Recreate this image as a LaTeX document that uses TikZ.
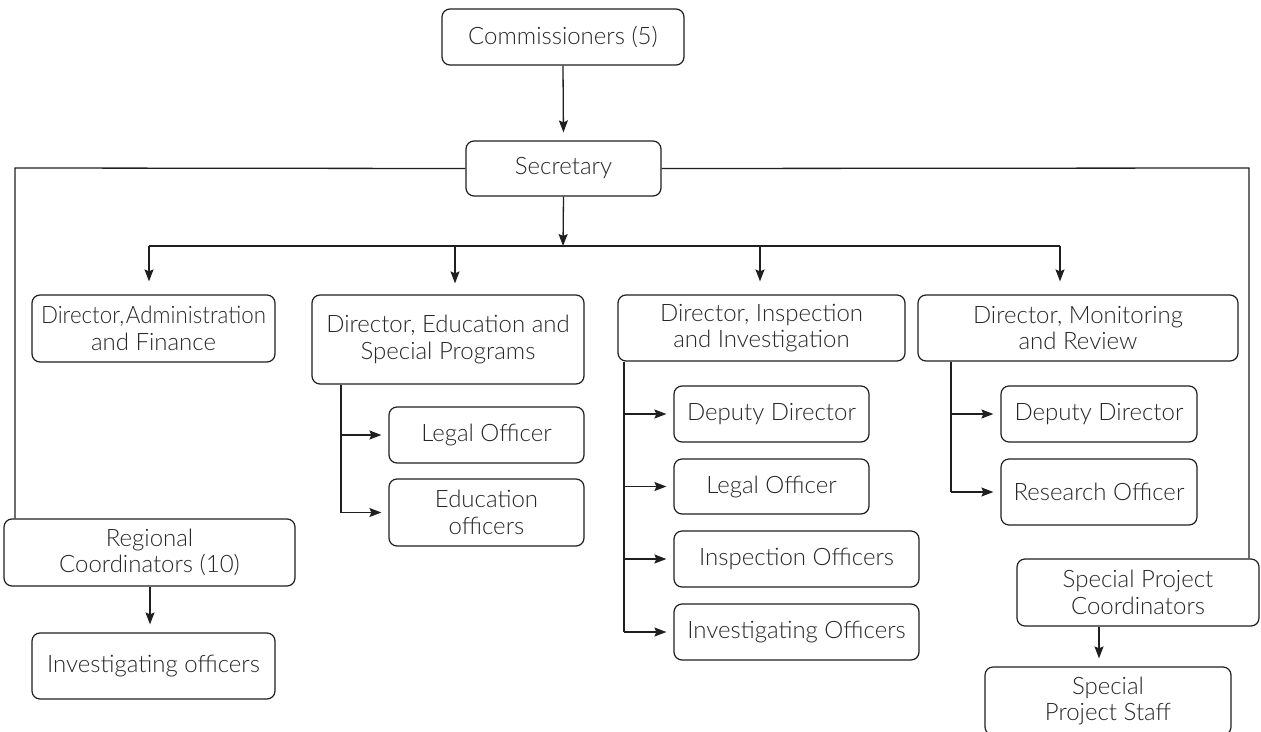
\documentclass[tikz,border=0pt]{standalone}
\usepackage{fontspec}
\usepackage{graphicx}
\setmainfont{Lato}[UprightFont=* Light]
\usetikzlibrary{arrows.meta,calc}
\begin{document}
\begin{tikzpicture}[x=1pt,y=-1pt,
  box/.style={draw=black!88, line width=1.2pt, rounded corners=8pt, align=center, inner sep=0pt,
    font=\fontsize{24}{26.5}\selectfont, text=black!85},
  conn/.style={draw=black!88, line width=1.3pt},
  arr/.style={conn, -{Stealth[length=12pt,width=9pt,inset=2pt]}, shorten >=8pt}]
\useasboundingbox (0,0) rectangle (1261,731);
\node[box, minimum width=242, minimum height=56] (com) at (563,37) {Commissioners (5)};
\node[box, minimum width=195, minimum height=55] (sec) at (563.5,168.5) {Secretary};
\node[box, minimum width=243, minimum height=67] (dadm) at (153.5,328.5) {\scalebox{0.93}[1]{Director,\hspace{2pt}Administration}\\and Finance};
\node[box, minimum width=272, minimum height=89] (dedu) at (448,339.5) {Director, Education and\\Special Programs};
\node[box, minimum width=287, minimum height=66] (dins) at (761.5,328) {Director, Inspection\\and Investigation};
\node[box, minimum width=320, minimum height=66] (dmon) at (1078,328) {Director, Monitoring\\and Review};
\node[box, minimum width=291, minimum height=67] (reg) at (149.5,552.5) {Regional\\Coordinators (10)};
\node[box, minimum width=243, minimum height=66] (invo) at (153.5,666) {Investigating officers};
\node[box, minimum width=195, minimum height=56] (eleg) at (486.5,435) {Legal Officer};
\node[box, minimum width=195, minimum height=67] (eoff) at (486.5,512.5) {Education\\officers};
\node[box, minimum width=195, minimum height=56] (idep) at (771.5,414) {Deputy Director};
\node[box, minimum width=195, minimum height=55] (ileg) at (771.5,486.5) {Legal Officer};
\node[box, minimum width=245, minimum height=56] (iins) at (796.5,559) {Inspection Officers};
\node[box, minimum width=245, minimum height=56] (iinv) at (796.5,632) {Investigating Officers};
\node[box, minimum width=196, minimum height=56] (mdep) at (1099,414) {Deputy Director};
\node[box, minimum width=196, minimum height=66] (mres) at (1099,492) {Research Officer};
\node[box, minimum width=242, minimum height=67] (spc) at (1138,592.5) {Special Project\\Coordinators};
\node[box, minimum width=246, minimum height=68] (sps) at (1108,701) {Special\\Project Staff};
% coordinates
\coordinate (lft) at (15,168);
\coordinate (rgt) at (1249,168);
\coordinate (busl) at (149,246);
\coordinate (busm) at (563,246);
\coordinate (busr) at (1060,246);
\coordinate (b2) at (455,246);
\coordinate (b3) at (760,246);
\coordinate (eb) at (341,0);
\coordinate (ib) at (624,0);
\coordinate (mb) at (951,0);
\coordinate (rb) at (150,0);
\coordinate (sb) at (1099,0);
% connectors
\draw[arr] (com.south) -- (sec.north);
\draw[conn] (sec.west) -- (lft) -- (lft |- reg.north);
\draw[conn] (sec.east) -- (rgt) -- (rgt |- spc.north);
\draw[arr, shorten >=0pt] (sec.south) -- (busm);
\draw[conn] (busl) -- (busr);
\draw[arr, shorten >=13pt] (busl) -- (busl |- dadm.north);
\draw[arr, shorten >=11pt] (b2) -- (b2 |- dedu.north);
\draw[arr, shorten >=13pt] (b3) -- (b3 |- dins.north);
\draw[arr, shorten >=13pt] (busr) -- (busr |- dmon.north);
% education branch
\draw[conn] (eb |- dedu.south) -- (eb |- eoff.west);
\draw[arr, shorten >=7pt] (eb |- eleg.west) -- (eleg.west);
\draw[arr, shorten >=7pt] (eb |- eoff.west) -- (eoff.west);
% inspection branch
\draw[conn] (ib |- dins.south) -- (ib |- iinv.west);
\draw[arr, shorten >=7pt] (ib |- idep.west) -- (idep.west);
\draw[arr, shorten >=7pt] (ib |- ileg.west) -- (ileg.west);
\draw[arr, shorten >=7pt] (ib |- iins.west) -- (iins.west);
\draw[arr, shorten >=7pt] (ib |- iinv.west) -- (iinv.west);
% monitoring branch
\draw[conn] (mb |- dmon.south) -- (mb |- mres.west);
\draw[arr, shorten >=7pt] (mb |- mdep.west) -- (mdep.west);
\draw[arr, shorten >=7pt] (mb |- mres.west) -- (mres.west);
% regional and special projects
\draw[arr] (rb |- reg.south) -- (rb |- invo.north);
\draw[arr] (sb |- spc.south) -- (sb |- sps.north);
\end{tikzpicture}
\end{document}
